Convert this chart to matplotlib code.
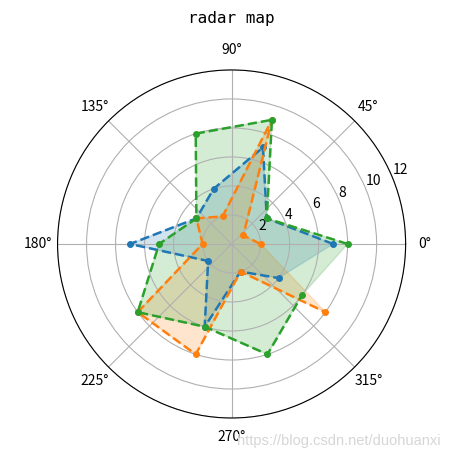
import numpy as np
import matplotlib.pyplot as plt

# radar data: 10 directions, 36 degrees apart
angles_deg = [0, 36, 72, 108, 144, 180, 216, 252, 288, 324]
blue = [7, 3, 7, 4, 3, 7, 2, 6, 2, 4]
orange = [2, 1, 9, 2, 3, 2, 8, 8, 2, 8]
green = [8, 3, 9, 8, 3, 5, 8, 6, 8, 6]
series = [blue, orange, green]
colors = ['C0', 'C1', 'C2']

theta = np.deg2rad(angles_deg)

fig = plt.figure(figsize=(4.51, 4.58), dpi=100)
ax = fig.add_axes([0.1275, 0.0873, 0.772, 0.760], projection='polar')

for vals, c in zip(series, colors):
    ax.plot(theta, vals, 'o--', color=c, linewidth=1.8, markersize=4)
    ax.fill(theta, vals, color=c, alpha=0.2)

ax.set_ylim(0, 12)
ax.set_yticks([2, 4, 6, 8, 10, 12])
ax.tick_params(labelsize=10)
for lab in ax.get_xticklabels() + ax.get_yticklabels():
    lab.set_family(['Noto Sans CJK SC', 'DejaVu Sans'])

fig.text(0.513, 1 - 18 / 458, 'radar map', ha='center', va='center',
         family='DejaVu Sans Mono', fontsize=11.5)
# blog watermark, sits over the 270 label like in the source image
fig.text(0.978, 1 - 441 / 458, 'https://blog.csdn.net/duohuanxi',
         ha='right', va='center', color='#d6d6d6', fontsize=10.5,
         family='Liberation Sans')

fig.savefig('out.png', dpi=100)
